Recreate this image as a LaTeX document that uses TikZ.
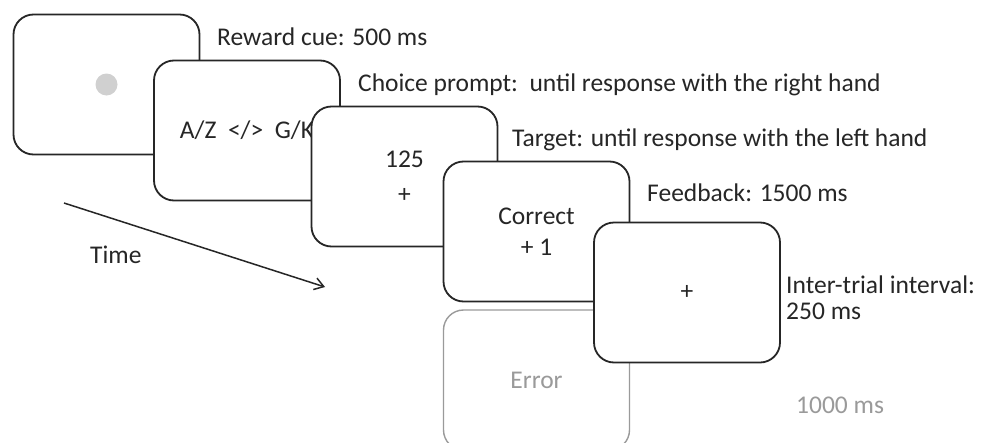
\documentclass[tikz,border=0pt]{standalone}
\usepackage{fontspec}
\setmainfont{Carlito}
\usetikzlibrary{arrows.meta}
\definecolor{ink}{HTML}{262626}
\definecolor{faint}{HTML}{9A9A9A}
\definecolor{dotgray}{HTML}{D0D0D0}
\tikzset{
  screen/.style={draw=ink, line width=1.8pt, fill=white, rounded corners=20pt,
    minimum width=186pt, minimum height=140pt, inner sep=0pt, align=center,
    text=ink, font=\fontsize{25.5}{35}\selectfont},
  ghost/.style={screen, draw=faint, line width=1.4pt, text=faint},
  lbl/.style={anchor=west, inner sep=0pt, text=ink, font=\fontsize{25.5}{26}\selectfont, align=left},
}
\begin{document}
\begin{tikzpicture}[x=1pt,y=-1pt]
\useasboundingbox (0,0) rectangle (991,442);
\fill[white] (0,0) rectangle (991,442);
% screens
\node[screen] (cue) at (106.5,84.5) {};
\fill[dotgray] (cue.center) circle (11pt);
\node[screen] (choice) at (247,130.5) {A/Z\ \ </>\ \ G/K};
\node[screen] (target) at (404.5,176.5) {125\\+};
\node[screen, font=\fontsize{25.5}{31}\selectfont] (feedback) at (536.5,231.5) {Correct\\+ 1};
\node[ghost] (error) at (536.5,380) {Error};
\node[screen] (iti) at (687,292.5) {+};
% labels
\node[lbl] (lcue) at (217,37) {Reward cue: 500 ms};
\node[lbl] (lchoice) at (358,85) {Choice prompt:\ \ until response with the right hand};
\node[lbl] (ltarget) at (512,140) {Target: until response with the left hand};
\node[lbl] (lfeed) at (647,193) {Feedback: 1500 ms};
\node[lbl] (liti) at (786,298) {Inter-trial interval:\\250 ms};
\node[lbl, text=faint] (lerr) at (796,405) {1000 ms};
% time arrow
\coordinate (t0) at (64,203);
\coordinate (t1) at (325,287);
\draw[ink, line width=1.5pt, -{Straight Barb[length=9pt,width=12pt]}] (t0) -- (t1);
\node[lbl] (ltime) at (90,255) {Time};
\end{tikzpicture}
\end{document}
